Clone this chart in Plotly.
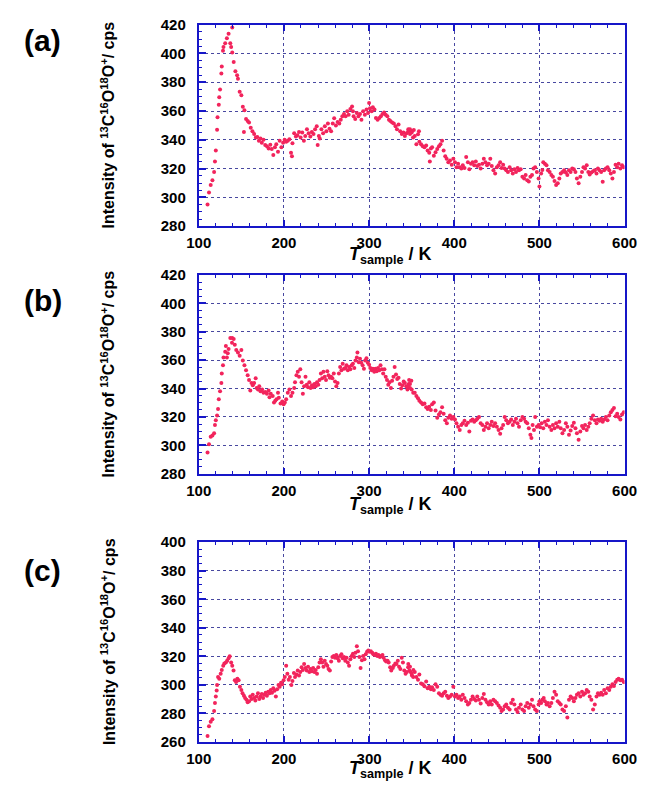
import plotly.graph_objects as go

# ---------------- data ----------------
# Panel (a)
T_A1 = [110.3,112,114,116,118,119,120,121.5,122,123.5,124,125,126.5,127,128.4,129,131,133,135,137,138,139.3,139.3,141,143,145,146,148,150,151.7,153.6,153,155.5,157.4,159,161,163,165,167,168.7,170.6,172.5,174,176,178,180,182,184,185.7,187.5,189.4,191,193,195,197,199,200.8,202.6,204.5,206.4,208.3,209.4,210,212,214,215.8,217.7,219.6,221.5,223.4,225,227,229,231,232.8,234.7,236.6,238.5,239.6,241,242,244,246,248,249.8,251.6,253.5,255.4,257.3,259,261,263,265,266.7,268.6,270.5,272.4,274.3,276,278,280,281,281.8,283.7,285.6,287.5,289.3,291,293,295,297,298.8,300,301,303,304.4,306.3,308,310,312,313.8,315.7,317.6,319.5,321.4,323.3,325,327,329,331,332.7,334.6,336.5,338.4,340.3,342,344,346,348,350,351.6]
I_A1 = [295,303.4,308.6,312,317.7,325,332.5,347,355.7,364.3,369.5,375,386,391,401.8,404.5,407,410.5,413.6,407,404.5,418,400.7,394,387.7,384.8,382.5,373.4,371,363,360.5,345.5,354.5,353,352,348.4,346,344,341.6,342,339.3,341,338,340,336.4,335.5,334,336.6,333.6,329.5,334.8,337,331.8,339.3,334.8,338,340,338.6,339.3,340.4,331,328.6,337.7,344.5,342.3,343.2,345.5,341.6,345,339.3,342.7,347.3,344.5,342.3,345.5,344,347.3,349.5,336.4,342.7,341,347.3,344.5,349.5,346,351.4,347.7,346,351.4,355,350,352.3,351.4,354,356.4,358,356.4,359.8,357.5,361.4,363.2,359.8,356.4,354.5,358.6,356.4,358,354,359.8,357.5,361,358.6,365.5,362,359.8,362.7,361,355.2,354,355.2,356.4,358,359,357.5,356.4,354,353,352,351.4,349.5,347.3,350.7,346,344,345,342.7,344.5,347.3,344,346,341.6]
T_A2 = [346,348,350,352.5,353.6,355.5,357.4,358.5,359,361,363,365,367,368.7,370.6,371.3,372.5,374,376,378,380,382,383.8,385.7,387.5,389.4,391,393,395,397,398.9,400.8,402.6,404.5,406.4,408.3,410,412,414,416,417.7,419.6,421.5,423.4,425.3,427,429,431,433,434.7,436.6,438.5,440.4,442.3,444,446,448,450,452,453.9,455.5,457.4,459.2,461,463,465,466.8,468.7,470.6,472.5,474.3,476,478,480,482,483.8,485.7,487.5,489.4,491.3,493,495,497,499,500,502,503.4,504.5,506.4,508.3,510,512,514,515.8,517.7,519.6,521.5,523.4,525,527,529,531,532.8,534.7,536.6,538.5,540.4,542.3,544,546,548,550,551.7,553.6,555.5,557.4,559,561,563,565,567,568.7,570.6,572.5,574.3,576,578,580,582,583.8,585.7,587.5,589.4,591.3,593,595,597,599]
I_A2 = [346,347.3,345,346.8,342.7,337,343.9,346,338.6,337,335.5,334.8,336,332.5,331,325,334,334.8,329,331.4,333.6,335.5,337,339.3,332.5,328.6,326.8,324.5,325.7,322.7,326.8,324.5,321,323.4,321,320,322.3,320.5,328,324.5,319.5,323.4,324.5,322.3,325,321.8,322.7,320,323.4,326.8,324.5,322.3,323.4,326.8,321.8,318.8,316.6,321,322.3,324.5,320.5,322.7,320,318.8,317.7,321,318.8,316.6,319.5,317.7,320.5,318.8,319.5,314.3,313.2,315.5,312,311,314.3,315.5,320,321,317.7,313.2,307.5,316.6,319,324.5,323.4,322.3,318.8,317.7,315.5,314.3,311.4,308.6,309.8,313.2,316.6,317.7,318.8,317.3,315.5,318.8,317.7,320,319.5,317.7,313.2,309.8,314.3,317.7,321,320,322.3,317.7,315.9,317.3,318.2,318.8,316.6,320,318.8,317.7,310.9,318.8,320,321,318.8,316.6,313.2,317.7,322.7,321,323.4,320,322.3,321]

# Panel (b)
T_B1 = [110.3,112,114,116,118,119,120,121.5,122.6,123.5,125,126.5,127,128.4,129,131,131.8,133,134,135,137,139,139.3,141,142.3,144,146,148,150,151.7,153.6,155.5,157.4,159,160.5,161.9,163.4,165,166.8,168,169.5,171,172.5,174.4,176,178,180,182,183,184.5,186.8,188.3,189.8,191.3,193,194,196,198,199.6,201,202.6,204.5,206.4,208.3,210,212,213,214.7,216.2,217.7,219.2,220.7,222.2,223.7,225.3,226.8,228.3,229.8,231.3,232.8,234.3,235.8,237.3,238.8,240.3,241.8,243.4,244.9,246.4,247.9,249.4,250.9,252.4,253.9,255.4,256.9,258.5,260,261.5,263,264.5,266,267.5,269,270.5,272,273.5,275,276.5,278,279.5,281,282.6,284,285.6,286.3,287.8,289.3,290.8,292.4,293.9,295.4,296.9,298.5,300,301.4,303,304.4,306,307.4,309,310.5,312,313.4,315,316.5,318,319.5,321,322.5,324,325.6,327,328.6,330,331.6,333,334.6,336,337.6,339,340.6,342,343.6,345,346.6,348,349.6,351.8]
I_B1 = [295,300.7,306,307,308.6,314.3,317.7,321,325.7,332.5,338.2,343.9,350.7,356.4,362,366,370,362,365,368,375.7,372.3,375.7,375,371,367.3,365.5,363.2,367.3,359.8,356.4,353,349.5,346,338.6,343.9,342.3,343.9,347.3,340.4,339.3,341.6,338.2,339.3,337,337.7,336.4,338.6,334,336.4,334.8,330.2,331.4,332.5,337,333.6,329.5,330.9,329,330.2,332.5,337,339.3,334.8,337,340.4,344.5,349.5,351.8,348.4,353.6,344.5,336.4,341.6,348.4,342.7,340.9,344.5,340.4,342.3,340.9,343.2,341.6,344.5,342.7,346,350.7,347.3,351.8,348.4,346,352.3,349.5,347.7,348.4,347.3,350.7,345,341.6,343.9,350.7,355.2,353,357.5,354,354.5,356.4,353,355.2,353.6,356.4,357.5,354.5,359.8,362,365.5,358.6,361,358.2,356.4,354,359.8,361.4,358.2,356.8,354.5,353,354,351.8,354,352.3,354.5,353,356.4,353.6,350.7,353.6,348.4,346,342.7,344.5,340.4,345.5,348.4,355.2,350,346.8,347.7,343.2,340,342.3,345,343.9,341.6,339.3,343.2,340.4,345.5,337]
T_B2 = [345.5,347,348,350,353.6,355.5,357.4,359,361,363,365,367,368.7,370.6,372.5,374,376,378,380,382,383.8,385.7,387.5,389.4,391.3,393,395,397,398.9,400.8,402.6,404.5,406.4,408.3,410,412,414,416,417.7,419.6,421.5,423.4,425.3,427,429,431,433,434.7,436.6,438.5,440.4,442.3,444,446,448,450,452,453.9,455.5,457.4,459.2,461,463,465,466.8,468.7,470.6,472.5,474.3,476,478,480,482,483.8,485.7,487.5,489.4,490.6,492,493.6,495,497,499,500.8,502.6,504.5,506.4,508.3,510,512,514,515.8,517.7,519.6,521.5,523.4,525,527,529,531,532.8,534.7,536.6,538.5,540.4,542.3,544,546,548,550,551.7,553.6,555.5,557.4,559,561,563,565,567,568.7,570.6,572.5,574.3,576,578,580,582,583.8,585.7,587.5,589.4,591.3,593,595,597,599]
I_B2 = [341.6,346,343.2,339.3,337,334.8,333.2,331.4,330.2,329,329.5,326.8,325.7,327.3,325,329,330.2,324.5,319.5,321.8,323.4,326.8,322.3,317.7,315.5,319.5,321,318.8,320,318.2,315.5,313.2,310.9,314.3,315.5,317.3,314.3,315.9,309.8,317.3,318.2,316.6,317.7,318.8,320,315.5,314.3,310.9,313.2,315.5,312,314.3,316.6,313.6,315.5,313.2,310.9,308.2,312,314.3,320,317.7,315.5,316.6,318.2,314.3,316.6,318.8,315.5,313.2,317.7,320,318.8,316.6,315.5,312,307.5,305.2,314.3,310.9,320,313.2,314.3,312.7,315.5,312,316.6,314.3,317.7,313.2,310.9,314.3,312,315.5,313.2,316.6,312,308.6,310.9,315.5,313.2,307.5,310.4,313.6,315.9,312,308.6,304,309.8,313.6,312,314.3,310.9,313.2,315.5,318.8,321,317.7,315.5,318.2,317.3,318.8,316.6,318.2,320,317.7,321,323.4,325,326.4,320.5,322.3,320,318.2,321.8,323.4]

# Panel (c)
T_C1 = [110.3,112,114,116,118,119,120,121,121.5,122.6,124,125.7,127,128.7,130,131.8,133.3,135,136.3,138,139.3,140.8,142.3,143.8,145.3,146.8,148.3,150,151.4,153,154.4,156,157.4,159,160.4,162,163.4,165,166.4,168,169.5,171,172.5,174,175.5,177,178.5,180,181.5,183,184.5,186,187.5,189,190.5,192,193.6,195,196.6,198,199.6,201,202.6,204,205.6,207,208.7,210,211.7,213,214.7,216.2,217.7,219.2,220.7,222.2,223.7,225.3,226.8,228.3,229.8,231.3,232.8,234.3,235.8,237.3,238.8,240.3,241.8,243.4,244.9,246.4,247.9,249.4,250.9,252.4,253.9,255.4,256.9,258.5,260,261.5,263,264.5,266,267.5,269,270.5,272,273.5,275,276.5,278,279.5,281,282.6,284,285.6,287,288.6,290,291.6,293,294.6,296,297.6,299,300.7,302,303.7,305,306.7,308,309.7,311,312.7,314,315.7,317,318.7,320,321.7,323,324.7,326,327.8,329,330.8,332.2,333.7,335.2,336.7,338.3,339.7,341.3,342.8,344.3,345.8,347.3,348.8,350.3,351.8]
I_C1 = [264,270.9,274,275.9,281.6,287.3,291.8,296,299.8,305.4,304.3,307.7,310.4,313.4,315,315.7,316.8,318.6,320,315.7,313.4,310,303.2,302,304.3,303.2,298.6,296.4,294,292.3,290.7,289.5,287.7,288.4,291.8,290,293,290.7,289,291.8,294,290,291.8,293.6,290.7,293,294.5,292.3,295.2,294,296.4,294.5,297.5,295.9,291.8,296.8,299.8,298.6,301.4,300.4,303.2,305.4,313.4,307.7,303.6,305.4,299.8,302.7,308.2,305.4,307.3,310,306.6,308.9,312.3,310.4,314.5,311.8,310,312.7,308.9,311.1,309.5,311.8,308.9,310.4,307.7,312.3,315.7,318,315.7,312.7,316.8,314.5,313.4,311.1,310,316.4,319.5,320.2,319,320.9,318.6,316.8,320.2,321.4,318.6,319.5,316.8,319,315.7,313.4,318,320.2,321.8,319.5,322.5,327,323.6,319.5,311.8,317.3,320.2,318,321.4,323.2,324,323.2,323.6,322.5,321.4,320.9,321.8,320.2,320.9,319.5,320.2,320.9,319,317.3,316.4,316.8,315.7,312.3,310,311.8,313.4,315,314.5,316.8,312.7,311.1,319,315.7,310,307.7,308.9,312.3,310,308.9,306.6,305.4]
T_C2 = [346,348,350,352,353.6,355.5,357.4,359,361,363,365,367,368.7,370.6,372.5,374,376,378,380,382,383.8,385.7,387.5,389.4,391.3,393,395,397,398.9,400.8,402.6,404.5,406.4,408.3,410,412,414,416,417.7,419.6,421.5,423.4,425.3,427,429,431,433,434.7,436.6,438.5,440.4,442.3,444,446,448,450,452,453.9,455.5,457.4,459.2,461,463,465,466.8,468.7,470.6,472.5,474.3,476,478,480,482,483.8,485.7,487.5,489.4,491.3,493,495,497,499,500,502,503.4,505,506.4,508.3,510,512,514,515.8,517.7,519.6,521.5,523.4,525,527,529,531,532.8,534.7,536.6,538.5,540.4,542.3,544,546,548,550,551.7,553.6,555.5,557.4,559,561,563,565,567,568.7,570.6,572.5,574.3,576,578,580,582,583.8,585.7,587.5,589.4,591.3,593,595,597,599]
I_C2 = [314.5,312.7,307.7,310.4,308.9,305.4,303.6,307.3,300.9,300.4,298.9,302.3,297.5,298.6,296.8,298.2,296.4,300.4,298.6,294,293,292.3,294,295.2,292.3,290.7,291.8,293,298.6,291.8,293,290.7,291.8,289.5,293,290.7,288.4,286.1,287.3,289.5,291.8,290,289,291.8,289.5,286.8,290.7,293.6,289.5,287.7,286.1,288.4,286.1,289.5,288.4,287.3,285.5,283.9,281.6,282.7,285,286.1,283.9,282.7,287.3,289.5,286.1,282.7,280.9,283.9,286.1,282.7,281.6,285,287.3,283.9,286.1,289.5,285,282.7,281.6,286.1,288.4,287.3,289.5,290.7,288.4,286.1,287.3,285,287.3,290.7,295.2,293,288.4,287.3,286.1,282.7,281.6,285,277,289.5,291.8,290.7,288.4,290.7,293,294,291.8,295.2,293,294,296.4,295.2,291.8,289.5,282.7,286.1,291.8,294,293,294.5,293,296.4,294,297.5,296.4,298.6,300.4,299.1,302,303.6,304.3,303.2,303.6,302]

PANEL_LABELS = ["(a)", "(b)", "(c)"]
Y_RANGES = [(280, 420), (280, 420), (260, 400)]
X_RANGE = (100, 600)
X_TICKS = [100, 200, 300, 400, 500, 600]
Y_TITLE = "<b>Intensity of <sup>13</sup>C<sup>16</sup>O<sup>18</sup>O<sup>+</sup>/ cps</b>"
X_TITLE = "<b><i>T</i><sub>sample</sub> / K</b>"

# ---------------- layout geometry (pixels) ----------------
W, H = 652, 787
PLOT_L, PLOT_R = 193.5, 637
PANELS_PX = [(16, 222), (272, 475), (545, 749)]   # (top, bottom) of each plot area
LABEL_Y = [32, 298, 574]
XTITLE_Y = [238, 494, 764]

def fx(p):
    return p / W

def fy(p):
    return 1 - p / H

def pair(t, i):
    n = min(len(t), len(i))
    return list(t[:n]), list(i[:n])

series = [
    (pair(T_A1, I_A1), pair(T_A2, I_A2)),
    (pair(T_B1, I_B1), pair(T_B2, I_B2)),
    (pair(T_C1, I_C1), pair(T_C2, I_C2)),
]

BLUE = "#1616c8"
GRID = "#4848a0"
DOT = "#f2245c"
FONT = "Liberation Sans"

fig = go.Figure()
annotations = []
layout = {}
for k in range(3):
    sfx = "" if k == 0 else str(k + 1)
    (t1, i1), (t2, i2) = series[k]
    fig.add_trace(go.Scatter(
        x=t1 + t2, y=i1 + i2, mode="markers",
        marker=dict(color=DOT, size=4, line=dict(width=0)),
        xaxis="x" + sfx, yaxis="y" + sfx, showlegend=False,
        hoverinfo="x+y"))
    top, bot = PANELS_PX[k]
    layout["xaxis" + sfx] = dict(
        domain=[fx(PLOT_L), fx(PLOT_R)], anchor="y" + sfx,
        range=list(X_RANGE), tickvals=X_TICKS, ticktext=[str(v) for v in X_TICKS],
        ticks="inside", ticklen=6, tickwidth=1.5, tickcolor=BLUE,
        minor=dict(dtick=20, tick0=100, ticks="inside", ticklen=3, tickcolor=BLUE, tickwidth=1, showgrid=False),
        showline=True, linecolor=BLUE, linewidth=2, mirror="ticks",
        showgrid=True, gridcolor=GRID, gridwidth=1, griddash="dot",
        zeroline=False,
        tickfont=dict(family=FONT, size=15, color="black", weight="bold"),
        ticklabelstandoff=2,
    )
    y0, y1 = Y_RANGES[k]
    layout["yaxis" + sfx] = dict(
        domain=[fy(bot), fy(top)], anchor="x" + sfx,
        range=[y0, y1], dtick=20, tick0=y0,
        ticks="inside", ticklen=7, tickwidth=1.5, tickcolor=BLUE,
        minor=dict(dtick=5, ticks="inside", ticklen=3, tickcolor=BLUE, tickwidth=1, showgrid=False),
        showline=True, linecolor=BLUE, linewidth=2, mirror=True,
        showgrid=True, gridcolor=GRID, gridwidth=1, griddash="dot",
        zeroline=False,
        tickfont=dict(family=FONT, size=15, color="black", weight="bold"),
        ticklabelstandoff=8,
    )
    # panel label
    annotations.append(dict(
        text="<b>" + PANEL_LABELS[k] + "</b>", x=fx(31), y=fy(LABEL_Y[k]),
        xref="paper", yref="paper", xanchor="center", yanchor="middle",
        showarrow=False, font=dict(family=FONT, size=30, color="black")))
    # y title
    annotations.append(dict(
        text=Y_TITLE, x=fx(99), y=fy((top + bot) / 2),
        xref="paper", yref="paper", xanchor="center", yanchor="middle",
        textangle=-90, showarrow=False,
        font=dict(family=FONT, size=16, color="black")))
    # x title
    annotations.append(dict(
        text=X_TITLE, x=fx(393), y=fy(XTITLE_Y[k]),
        xref="paper", yref="paper", xanchor="center", yanchor="top",
        showarrow=False, font=dict(family=FONT, size=18, color="black")))

fig.update_layout(
    width=W, height=H, margin=dict(l=0, r=0, t=0, b=0),
    paper_bgcolor="white", plot_bgcolor="white",
    annotations=annotations, showlegend=False, **layout)

fig.write_html("out.html", config={"displayModeBar": False},
               post_script="document.body.style.margin='0px';document.body.style.overflow='hidden';")
